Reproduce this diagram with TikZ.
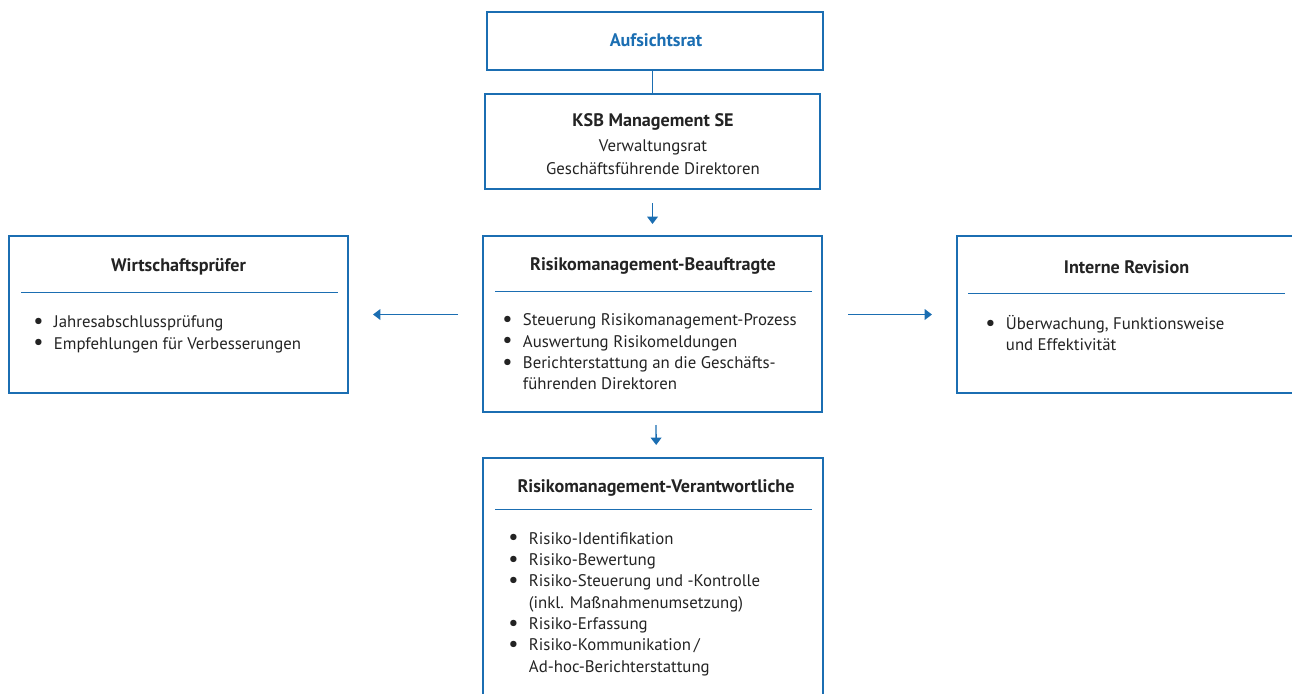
\documentclass[tikz,border=0pt]{standalone}
\usepackage{fontspec}
\setmainfont{PT Sans}
\usetikzlibrary{positioning, arrows.meta}

\definecolor{ksbblue}{RGB}{27,110,178}
\definecolor{ksbtext}{RGB}{35,35,35}

\newcommand{\bul}{\makebox[15.5pt][l]{\raisebox{-0.05em}{\scalebox{1.35}{\textbullet}}}}
\newcommand{\cont}{\hspace*{15.5pt}}

\begin{document}
\begin{tikzpicture}[x=0.75pt, y=-0.75pt,
    box/.style   = {draw=ksbblue, line width=1.5pt, inner sep=0pt},
    head/.style  = {font=\fontsize{13.6}{16}\selectfont\bfseries, text=ksbtext, anchor=base, inner sep=0pt},
    items/.style = {font=\fontsize{12.6}{16}\selectfont, text=ksbtext, align=left, anchor=base west, inner sep=0pt},
    rule/.style  = {draw=ksbblue, line width=0.75pt},
    link/.style  = {draw=ksbblue, line width=1pt},
    arrow/.style = {link, -{Triangle[width=8pt,length=5.5pt]}}]

    \useasboundingbox (0,0) rectangle (1292,693);
    \clip (0,0) rectangle (1292,693);

    % boxes
    \node[box, minimum width=252pt, minimum height=43.5pt] (aufsichtsrat) at (655,41) {};
    \node[box, minimum width=251.25pt, minimum height=71.25pt] (ksb) at (652.5,141.5) {};
    \node[box, minimum width=254.25pt, minimum height=132pt] (beauftragte) at (652.5,324) {};
    \node[box, minimum width=254.25pt, minimum height=117.75pt] (pruefer) at (178.5,314.5) {};
    \node[box, minimum width=254.25pt, minimum height=117.75pt] (revision) at (1126.5,314.5) {};
    \node[box, minimum width=255pt, minimum height=187.5pt] (verantwortliche) at (653,583) {};

    % Aufsichtsrat and KSB (multi-line texts sit on their last baseline)
    \node[head, text=ksbblue] (aufsichtsrattitle) at (656,46.7) {Aufsichtsrat};
    \node[head] (ksbtitle) at (653,126.7) {KSB Management SE};
    \node[items, anchor=base, font=\fontsize{12.6}{16.75}\selectfont, align=center] (ksbtext) at (653,174)
        {Verwaltungsrat\\Geschäftsführende Direktoren};

    % Wirtschaftsprüfer
    \node[head] (pruefertitle) at (178.5,271) {Wirtschaftsprüfer};
    \draw[rule] (21,292.5) -- (338,292.5);
    \node[items] (prueferlist) at (33,349)
        {\bul Jahresabschlussprüfung\\
         \bul Empfehlungen für Verbesserungen};

    % Risikomanagement-Beauftragte
    \node[head] (beauftragtetitle) at (653,270.7) {Risikomanagement-Beauftragte};
    \draw[rule] (495,291) -- (812,291);
    \node[items] (beauftragtelist) at (502,389.7)
        {\bul Steuerung Risikomanagement-Prozess\\
         \bul Auswertung Risikomeldungen\\
         \bul Berichterstattung an die Geschäfts-\\
         \cont führenden Direktoren};

    % Interne Revision
    \node[head] (revisiontitle) at (1126.5,273.3) {Interne Revision};
    \draw[rule] (968,293.5) -- (1285,293.5);
    \node[items] (revisionlist) at (985,350.8)
        {\bul Überwachung, Funktionsweise\\
         \cont und Effektivität};

    % Risikomanagement-Verantwortliche
    \node[head] (verantwortlichetitle) at (656,492.7) {Risikomanagement-Verantwortliche};
    \draw[rule] (495,509.5) -- (812,509.5);
    \node[items] (verantwortlichelist) at (508,672)
        {\bul Risiko-Identifikation\\
         \bul Risiko-Bewertung\\
         \bul Risiko-Steuerung und -Kontrolle\\
         \cont (inkl. Maßnahmenumsetzung)\\
         \bul Risiko-Erfassung\\
         \bul Risiko-Kommunikation\,/\\
         \cont Ad-hoc-Berichterstattung};

    % connectors
    \draw[link] (ksb.north) -- (ksb.north |- aufsichtsrat.south);
    \draw[arrow, shorten <=9.75pt, shorten >=8.25pt] (ksb.south) -- (beauftragte.north);
    \draw[arrow, shorten <=9pt, shorten >=9pt] ([xshift=2.5pt]beauftragte.south) -- ([xshift=2.5pt]verantwortliche.north);
    \draw[arrow, shorten <=18pt, shorten >=18pt] (beauftragte.west |- pruefer) -- (pruefer.east);
    \draw[arrow, shorten <=18.75pt, shorten >=18pt] (beauftragte.east |- revision) -- (revision.west);
\end{tikzpicture}
\end{document}
